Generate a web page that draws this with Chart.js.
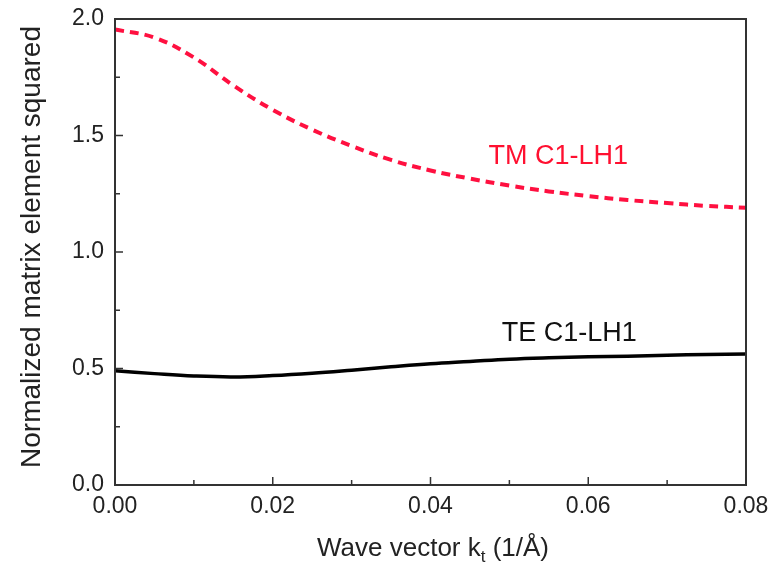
<!DOCTYPE html>
<html lang="en">
<head>
  <meta charset="UTF-8">
  <title>Normalized matrix element squared</title>
  <script src="https://cdn.jsdelivr.net/npm/chart.js"></script>
  <style>
    body {
      margin: 0;
      background: #fff;
    }
    #wrap {
      width: 771px;
      height: 570px;
    }
  </style>
</head>
<body>
  <div id="wrap"><canvas id="chart" width="771" height="570"></canvas></div>

  <script>
    // wave vector k_t (1/Å)
    const kt = [0, 0.005, 0.01, 0.015, 0.02, 0.025, 0.03, 0.035, 0.04, 0.045, 0.05, 0.055, 0.06, 0.065, 0.07, 0.075, 0.08];
    const tmValues = [1.955, 1.92, 1.835, 1.715, 1.61, 1.525, 1.455, 1.395, 1.35, 1.315, 1.285, 1.26, 1.24, 1.223, 1.21, 1.198, 1.19];
    const teValues = [0.49, 0.478, 0.468, 0.464, 0.47, 0.48, 0.493, 0.507, 0.52, 0.53, 0.54, 0.546, 0.55, 0.553, 0.557, 0.56, 0.562];

    const xTicks = [0, 0.02, 0.04, 0.06, 0.08];
    const xMinorTicks = [0.01, 0.03, 0.05, 0.07];
    const yTicks = [0, 0.5, 1.0, 1.5, 2.0];
    const yMinorTicks = [0.25, 0.75, 1.25, 1.75];

    const labels = ['TM C1-LH1', 'TE C1-LH1'];
    const labelX = [0.0562, 0.0576];
    const labelY = [1.41, 0.652];

    const FONT = 'Liberation Sans, Arial, sans-serif';
    const AXIS = '#333';

    const toPoints = ys => kt.map((x, i) => ({ x: x, y: ys[i] }));

    // frame, inward ticks, axis titles and curve labels
    const decorations = {
      id: 'decorations',
      afterDraw(chart) {
        const ctx = chart.ctx;
        const a = chart.chartArea;
        const xs = chart.scales.x, ys = chart.scales.y;
        ctx.save();
        ctx.strokeStyle = AXIS;
        ctx.lineWidth = 2;
        ctx.strokeRect(a.left, a.top, a.right - a.left, a.bottom - a.top);

        ctx.lineWidth = 1.5;
        ctx.beginPath();
        xTicks.forEach(v => { const p = xs.getPixelForValue(v); ctx.moveTo(p, a.bottom); ctx.lineTo(p, a.bottom - 8); });
        xMinorTicks.forEach(v => { const p = xs.getPixelForValue(v); ctx.moveTo(p, a.bottom); ctx.lineTo(p, a.bottom - 5); });
        yTicks.forEach(v => { const p = ys.getPixelForValue(v); ctx.moveTo(a.left, p); ctx.lineTo(a.left + 8, p); });
        yMinorTicks.forEach(v => { const p = ys.getPixelForValue(v); ctx.moveTo(a.left, p); ctx.lineTo(a.left + 5, p); });
        ctx.stroke();

        // curve labels
        ctx.font = '27px ' + FONT;
        ctx.textAlign = 'center';
        ctx.textBaseline = 'middle';
        ctx.fillStyle = '#ff1030';
        ctx.fillText(labels[0], xs.getPixelForValue(labelX[0]), ys.getPixelForValue(labelY[0]));
        ctx.fillStyle = '#111';
        ctx.fillText(labels[1], xs.getPixelForValue(labelX[1]), ys.getPixelForValue(labelY[1]));

        // x title with subscript
        ctx.fillStyle = '#222';
        ctx.textAlign = 'left';
        ctx.textBaseline = 'alphabetic';
        const big = '26px ' + FONT, small = '17px ' + FONT;
        const p1 = 'Wave vector k', p2 = 't', p3 = ' (1/Å)';
        ctx.font = big;
        const w1 = ctx.measureText(p1).width, w3 = ctx.measureText(p3).width;
        ctx.font = small;
        const w2 = ctx.measureText(p2).width;
        let x = 433 - (w1 + w2 + w3) / 2;
        const base = 556;
        ctx.font = big; ctx.fillText(p1, x, base); x += w1;
        ctx.font = small; ctx.fillText(p2, x, base + 6); x += w2;
        ctx.font = big; ctx.fillText(p3, x, base);

        // y title
        ctx.save();
        ctx.translate(32, 247);
        ctx.rotate(-Math.PI / 2);
        ctx.textAlign = 'center';
        ctx.textBaseline = 'middle';
        ctx.font = '28px ' + FONT;
        ctx.fillText('Normalized matrix element squared', 0, 0);
        ctx.restore();

        ctx.restore();
      }
    };

    new Chart(document.getElementById('chart'), {
      type: 'line',
      data: {
        datasets: [
          { label: labels[0], data: toPoints(tmValues), borderColor: '#ff1040', borderWidth: 4, borderDash: [9, 6], pointRadius: 0, tension: 0.4, fill: false },
          { label: labels[1], data: toPoints(teValues), borderColor: '#000', borderWidth: 3.5, pointRadius: 0, tension: 0.4, fill: false }
        ]
      },
      options: {
        responsive: false,
        animation: false,
        layout: { padding: { top: 19, right: 25, left: 0, bottom: 0 } },
        plugins: { legend: { display: false }, tooltip: { enabled: false } },
        scales: {
          x: {
            type: 'linear', min: 0, max: 0.08,
            afterBuildTicks: s => { s.ticks = xTicks.map(v => ({ value: v })); },
            afterFit: s => { s.height = 85; s.paddingLeft = 0; s.paddingRight = 0; },
            grid: { display: false, drawTicks: false },
            border: { display: false },
            ticks: { color: '#222', padding: 8, font: { family: FONT, size: 23 }, callback: v => v.toFixed(2), maxRotation: 0 }
          },
          y: {
            min: 0, max: 2,
            afterBuildTicks: s => { s.ticks = yTicks.map(v => ({ value: v })); },
            afterFit: s => { s.width = 115; s.paddingTop = 0; s.paddingBottom = 0; },
            grid: { display: false, drawTicks: false },
            border: { display: false },
            ticks: { color: '#222', padding: 11, font: { family: FONT, size: 23 }, callback: v => v.toFixed(1) }
          }
        }
      },
      plugins: [decorations]
    });
  </script>
</body>
</html>
